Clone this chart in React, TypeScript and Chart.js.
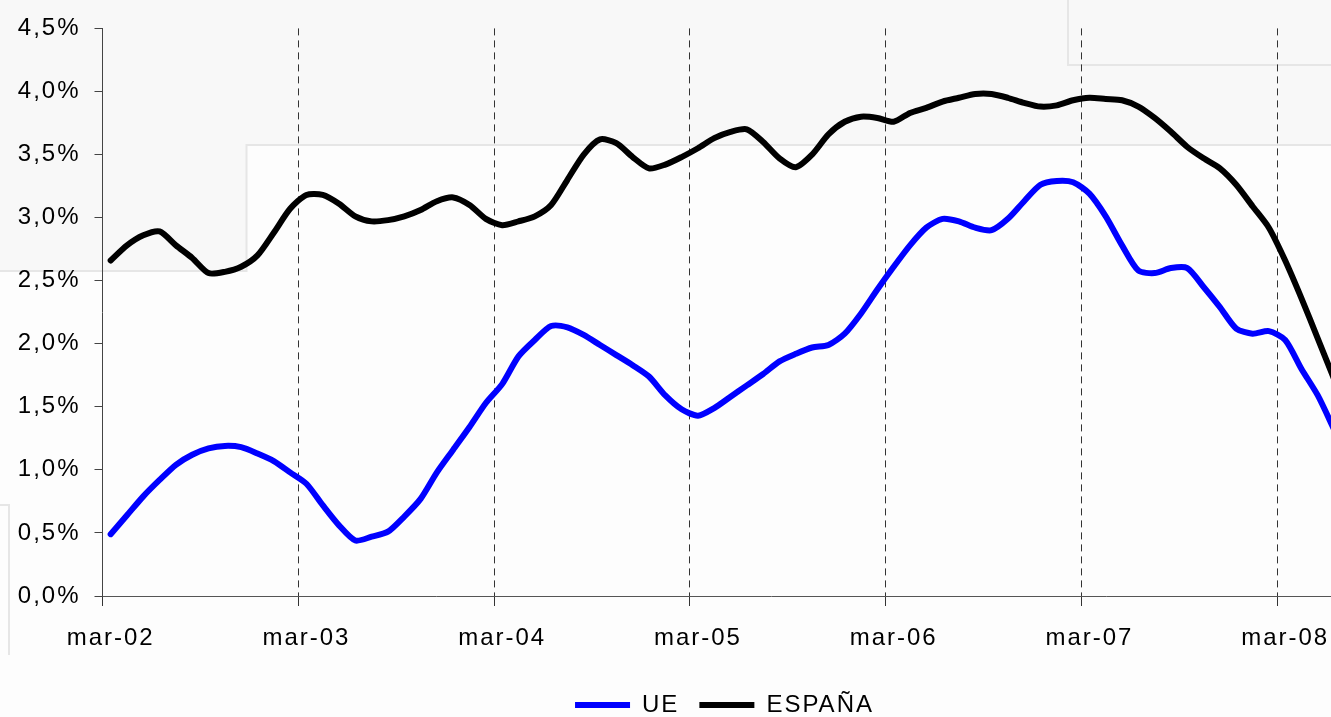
import { useEffect, useRef } from "react";
import { Chart, registerables } from "chart.js";

Chart.register(...registerables);

// Monthly categories, mar-02 ... dic-08
const categories: string[] = [
  "mar-02", "abr-02", "may-02", "jun-02", "jul-02", "ago-02", "sep-02", "oct-02", "nov-02", "dic-02", "ene-03", "feb-03",
  "mar-03", "abr-03", "may-03", "jun-03", "jul-03", "ago-03", "sep-03", "oct-03", "nov-03", "dic-03", "ene-04", "feb-04",
  "mar-04", "abr-04", "may-04", "jun-04", "jul-04", "ago-04", "sep-04", "oct-04", "nov-04", "dic-04", "ene-05", "feb-05",
  "mar-05", "abr-05", "may-05", "jun-05", "jul-05", "ago-05", "sep-05", "oct-05", "nov-05", "dic-05", "ene-06", "feb-06",
  "mar-06", "abr-06", "may-06", "jun-06", "jul-06", "ago-06", "sep-06", "oct-06", "nov-06", "dic-06", "ene-07", "feb-07",
  "mar-07", "abr-07", "may-07", "jun-07", "jul-07", "ago-07", "sep-07", "oct-07", "nov-07", "dic-07", "ene-08", "feb-08",
  "mar-08", "abr-08", "may-08", "jun-08", "jul-08", "ago-08", "sep-08", "oct-08", "nov-08", "dic-08",
];

// UE (%)
const ue: number[] = [
  0.49, 0.64, 0.79, 0.92, 1.04, 1.12, 1.17, 1.19, 1.18, 1.13, 1.07, 0.98,
  0.89, 0.72, 0.56, 0.44, 0.47, 0.51, 0.63, 0.77, 0.98, 1.16, 1.34, 1.53,
  1.68, 1.90, 2.03, 2.14, 2.13, 2.07, 1.99, 1.91, 1.83, 1.74, 1.59, 1.48,
  1.43, 1.49, 1.58, 1.67, 1.76, 1.86, 1.92, 1.97, 1.99, 2.08, 2.24, 2.43,
  2.61, 2.78, 2.92, 2.99, 2.97, 2.92, 2.90, 2.99, 3.13, 3.26, 3.29, 3.28,
  3.19, 3.01, 2.78, 2.58, 2.56, 2.60, 2.60, 2.45, 2.29, 2.12, 2.08, 2.10,
  2.03, 1.80, 1.59, 1.32,
];

// ESPAÑA (%)
const espana: number[] = [
  2.66, 2.78, 2.86, 2.89, 2.78, 2.68, 2.56, 2.57, 2.61, 2.70, 2.88, 3.07,
  3.18, 3.18, 3.11, 3.01, 2.97, 2.98, 3.01, 3.06, 3.13, 3.16, 3.10, 2.99,
  2.94, 2.97, 3.01, 3.10, 3.30, 3.50, 3.62, 3.59, 3.48, 3.39, 3.42, 3.48,
  3.55, 3.63, 3.68, 3.70, 3.60, 3.47, 3.40, 3.50, 3.66, 3.76, 3.80, 3.79,
  3.76, 3.83, 3.87, 3.92, 3.95, 3.98, 3.98, 3.95, 3.91, 3.88, 3.89, 3.93,
  3.95, 3.94, 3.93, 3.88, 3.79, 3.68, 3.56, 3.47, 3.39, 3.26, 3.09, 2.92,
  2.66, 2.36, 2.04, 1.72,
];

const seriesNames: string[] = ["UE", "ESPAÑA"];
const seriesColors: string[] = ["#0000ff", "#000000"];

const FONT = "'Liberation Sans', Arial, Helvetica, sans-serif";

const backdropPlugin = {
  id: "backdrop",
  beforeUpdate(chart: any) {
    chart.ctx.letterSpacing = "2px";
  },
  beforeDraw(chart: any) {
    const ctx = chart.ctx as CanvasRenderingContext2D;
    (ctx as any).letterSpacing = "2px";
    const w = chart.width;
    const h = chart.height;
    ctx.save();
    ctx.fillStyle = "#fdfdfd";
    ctx.fillRect(0, 0, w, h);
    ctx.fillStyle = "#f8f8f8";
    ctx.fillRect(0, 0, w, 145);
    ctx.fillRect(0, 145, 246, 126);
    ctx.strokeStyle = "#e6e6e6";
    ctx.lineWidth = 2;
    ctx.beginPath();
    ctx.moveTo(0, 271);
    ctx.lineTo(246.5, 271);
    ctx.lineTo(246.5, 145);
    ctx.lineTo(w, 145);
    ctx.moveTo(1068, 0);
    ctx.lineTo(1068, 65);
    ctx.lineTo(w, 65);
    ctx.moveTo(0, 505);
    ctx.lineTo(9, 505);
    ctx.lineTo(9, 655);
    ctx.stroke();
    ctx.restore();
  },
};

export default function App() {
  const ref = useRef<HTMLCanvasElement>(null);

  useEffect(() => {
    const canvas = ref.current;
    if (!canvas) return;
    const font = { family: FONT, size: 24 };
    const makeDataset = (i: number, data: number[]) => ({
      label: seriesNames[i],
      data,
      borderColor: seriesColors[i],
      backgroundColor: seriesColors[i],
      borderWidth: 6,
      pointRadius: 0,
      tension: 0.25,
      borderCapStyle: "round",
      borderJoinStyle: "round",
      fill: false,
    });
    const chart = new Chart(canvas, {
      type: "line",
      data: {
        labels: categories,
        datasets: [makeDataset(0, ue), makeDataset(1, espana)],
      },
      options: {
        responsive: false,
        animation: false,
        devicePixelRatio: 1,
        layout: { padding: { top: 28, left: 0, right: 1, bottom: 0 } },
        plugins: {
          legend: {
            position: "bottom",
            labels: {
              usePointStyle: true,
              pointStyle: "line",
              pointStyleWidth: 55,
              padding: 20,
              color: "#000000",
              font,
            },
          },
          tooltip: { enabled: false },
        },
        scales: {
          x: {
            type: "category",
            offset: true,
            grid: {
              offset: true,
              drawOnChartArea: true,
              drawTicks: true,
              tickLength: 10,
              lineWidth: 1,
              color: (c: any) => (c.index % 12 === 0 ? "#333333" : "rgba(0,0,0,0)"),
              tickBorderDash: [],
            },
            border: { display: true, color: "#555555", width: 1, dash: [7, 5] },
            ticks: {
              autoSkip: false,
              maxRotation: 0,
              minRotation: 0,
              padding: 18,
              color: "#000000",
              font,
              callback: (_v: any, i: number) => (i % 12 === 0 ? categories[i] : ""),
            },
            afterFit: (s: any) => {
              s.height = 77;
            },
          },
          y: {
            min: 0,
            max: 4.5,
            grid: { drawOnChartArea: false, drawTicks: true, tickLength: 8, color: "#444444" },
            border: { display: true, color: "#444444", width: 1 },
            ticks: {
              stepSize: 0.5,
              padding: 14,
              color: "#000000",
              font,
              callback: (v: any) => Number(v).toFixed(1).replace(".", ",") + "%",
            },
            afterFit: (s: any) => {
              s.width = 102.5;
            },
          },
        },
      },
      plugins: [backdropPlugin],
    } as any);
    return () => chart.destroy();
  }, []);

  return (
    <div
      style={{
        position: "fixed",
        left: 0,
        top: 0,
        width: 1331,
        height: 717,
        overflow: "hidden",
        background: "#fdfdfd",
      }}
    >
      <canvas ref={ref} width={1450} height={727} style={{ display: "block" }} />
    </div>
  );
}
